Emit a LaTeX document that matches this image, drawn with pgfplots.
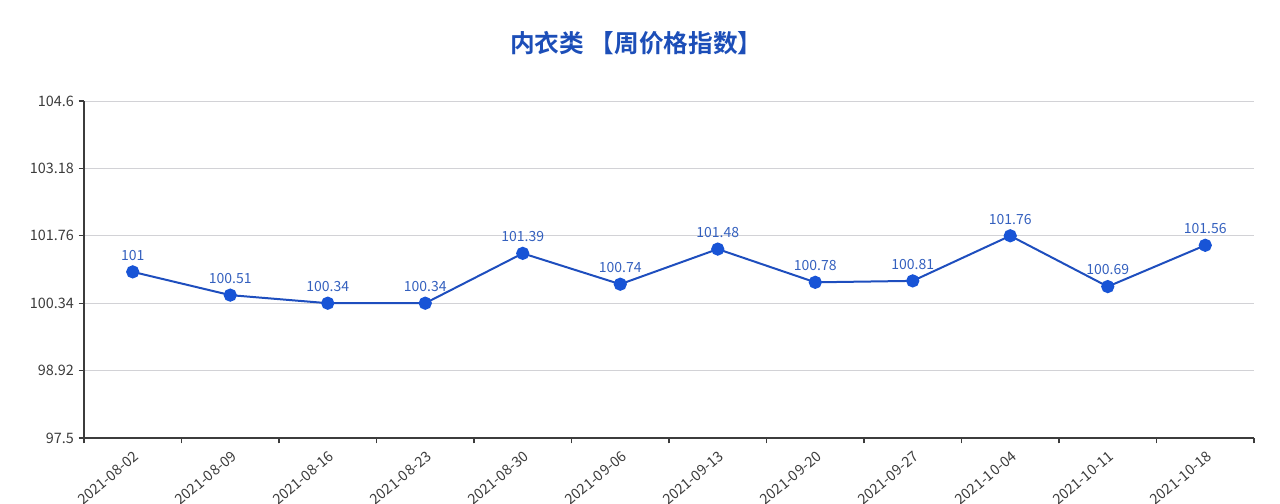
\documentclass[border=0pt]{standalone}
\usepackage{pgfplots}
\pgfplotsset{compat=1.18}
\usepackage{fontspec}
\setmainfont{Noto Sans CJK SC}
\newfontfamily\cjkbold[BoldFont={Noto Sans CJK SC Bold}]{Noto Sans CJK SC}

\definecolor{titleblue}{RGB}{28,78,184}
\definecolor{lineblue}{RGB}{30,78,190}
\definecolor{markblue}{RGB}{24,84,214}
\definecolor{labelblue}{RGB}{52,96,190}
\definecolor{gridgray}{RGB}{210,210,214}
\definecolor{axisgray}{RGB}{60,60,60}
\definecolor{textgray}{RGB}{60,60,60}

\begin{document}
\begin{tikzpicture}
\begin{axis}[
  scale only axis,
  width=877.5pt, height=252.75pt,
  xmin=-0.5, xmax=11.5,
  ymin=97.5, ymax=104.6,
  axis x line*=bottom, axis y line*=left,
  axis line style={draw=axisgray, line width=0.8pt},
  xtick={0,...,11},
  xticklabels={2021-08-02,2021-08-09,2021-08-16,2021-08-23,2021-08-30,2021-09-06,2021-09-13,2021-09-20,2021-09-27,2021-10-04,2021-10-11,2021-10-18},
  major x tick style={draw=none},
  minor xtick={-0.5,0.5,...,11.5},
  minor x tick style={draw=axisgray, line width=0.8pt},
  minor tick length=4pt,
  xticklabel style={rotate=40, anchor=north east, font=\fontsize{10.8}{12}\selectfont, text=textgray, inner sep=1pt, yshift=-3pt, xshift=-2pt},
  ytick={97.5,98.92,100.34,101.76,103.18,104.6},
  yticklabels={97.5,98.92,100.34,101.76,103.18,104.6},
  yticklabel style={font=\fontsize{10.8}{12}\selectfont, text=textgray},
  major y tick style={draw=axisgray, line width=0.8pt},
  major tick length=4pt,
  tick align=outside,
  ymajorgrids,
  y grid style={gridgray, line width=0.7pt},
  clip=false,
  nodes near coords,
  point meta=explicit symbolic,
  every node near coord/.append style={font=\fontsize{10.5}{11}\selectfont, text=labelblue, yshift=4.5pt},
]
\addplot[lineblue, line width=1.5pt, mark=*, mark size=4.2pt, mark options={fill=markblue, draw=markblue}]
table[meta=lab] {
x y lab
0 101.00 101
1 100.51 100.51
2 100.34 100.34
3 100.34 100.34
4 101.39 101.39
5 100.74 100.74
6 101.48 101.48
7 100.78 100.78
8 100.81 100.81
9 101.76 101.76
10 100.69 100.69
11 101.56 101.56
};
\node[font=\cjkbold\bfseries\fontsize{18.5}{20}\selectfont, text=titleblue] at ([yshift=43.5pt]rel axis cs:0.472,1) {内衣类 【周价格指数】};
\end{axis}
\pgfresetboundingbox
\path ([xshift=-63pt,yshift=-49.5pt]current axis.south west) rectangle ([xshift=19.5pt,yshift=75.75pt]current axis.north east);
\end{tikzpicture}
\end{document}
